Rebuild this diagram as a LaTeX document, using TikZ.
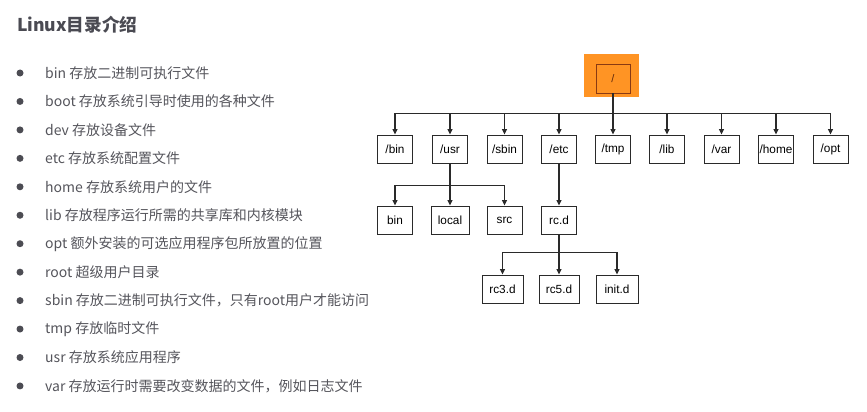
\documentclass[tikz,border=0pt]{standalone}
\usepackage{fontspec}
\setmainfont{Liberation Sans}
\newfontfamily\cjk{Noto Sans CJK SC}
\usetikzlibrary{arrows.meta}
\definecolor{titlegray}{HTML}{4A4A52}
\definecolor{textgray}{HTML}{55555C}
\definecolor{rootorange}{HTML}{FF9424}
\definecolor{rootedge}{HTML}{8A3A12}
\definecolor{linegray}{HTML}{2A2A2A}
\tikzset{
  dirbox/.style={draw=linegray, line width=0.9pt, minimum width=35pt, minimum height=28pt,
    inner sep=0pt, font=\fontsize{11.8}{13}\selectfont, text=black},
  link/.style={draw=linegray, line width=1.2pt, -{Triangle[length=5.5pt,width=5pt]}},
  bullettext/.style={anchor=west, inner sep=0pt, text=textgray, font=\cjk\fontsize{14}{16}\selectfont},
  dot/.style={circle, fill=textgray!90!black, inner sep=0pt, minimum size=7pt}
}
\begin{document}
\begin{tikzpicture}[x=1pt,y=-1pt]
\useasboundingbox[fill=white] (0,0) rectangle (867,412);

% heading
\node[anchor=west, inner sep=0pt, text=titlegray, font=\cjk\bfseries\fontsize{17.6}{20}\selectfont]
  (title) at (17,25) {Linux目录介绍};

% list of top-level directories
\foreach \i/\t in {0/bin 存放二进制可执行文件,
                   1/boot 存放系统引导时使用的各种文件,
                   2/dev 存放设备文件,
                   3/etc 存放系统配置文件,
                   4/home 存放系统用户的文件,
                   5/lib 存放程序运行所需的共享库和内核模块,
                   6/opt 额外安装的可选应用程序包所放置的位置,
                   7/root 超级用户目录,
                   8/sbin 存放二进制可执行文件，只有root用户才能访问,
                   9/tmp 存放临时文件,
                   10/usr 存放系统应用程序,
                   11/var 存放运行时需要改变数据的文件，例如日志文件} {
  \node[dot] (dot\i) at (20,73+28.45*\i) {};
  \node[bullettext] (item\i) at (45,73+28.45*\i) {\t};
}

% root directory
\node[fill=rootorange, minimum width=55pt, minimum height=43pt, inner sep=0pt] (rootbg) at (611.5,75.5) {};
\node[draw=rootedge, line width=0.9pt, minimum width=34pt, minimum height=29pt, inner sep=0pt,
  font=\fontsize{11}{12}\selectfont, text=rootedge!70!black] (root) at (613,78.5) {/};

% first level
\node[dirbox] (bin)  at (395,149)   {/bin};
\node[dirbox] (usr)  at (450,149)   {/usr};
\node[dirbox] (sbin) at (504.5,149) {/sbin};
\node[dirbox] (etc)  at (559,149)   {/etc};
\node[dirbox] (tmp)  at (613,149)   {/tmp};
\node[dirbox] (lib)  at (667,149)   {/lib};
\node[dirbox] (var)  at (721.5,149) {/var};
\node[dirbox] (home) at (776,149)   {/home};
\node[dirbox] (opt)  at (830.5,149) {/opt};

% second level
\node[dirbox] (ubin)   at (395,220)   {bin};
\node[dirbox, minimum width=38pt] (ulocal) at (450,220) {local};
\node[dirbox] (usrc)   at (504.5,220) {src};
\node[dirbox] (rcd)    at (559,220)   {rc.d};

% third level
\node[dirbox, minimum width=41pt] (rcthree) at (502.5,289) {rc3.d};
\node[dirbox, minimum width=40pt] (rcfive)  at (559,289)   {rc5.d};
\node[dirbox, minimum width=42pt] (initd)   at (617,289)   {init.d};

% connectors
\foreach \c in {bin,usr,sbin,etc,tmp,lib,var,home,opt}
  \draw[link] (root.south) -- ++(0,20) -| (\c.north);
\foreach \c in {ubin,ulocal,usrc}
  \draw[link] (usr.south) -- ++(0,22) -| (\c.north);
\draw[link] (etc.south) -- (rcd.north);
\foreach \c in {rcthree,rcfive,initd}
  \draw[link] (rcd.south) -- ++(0,18) -| (\c.north);
\end{tikzpicture}
\end{document}
